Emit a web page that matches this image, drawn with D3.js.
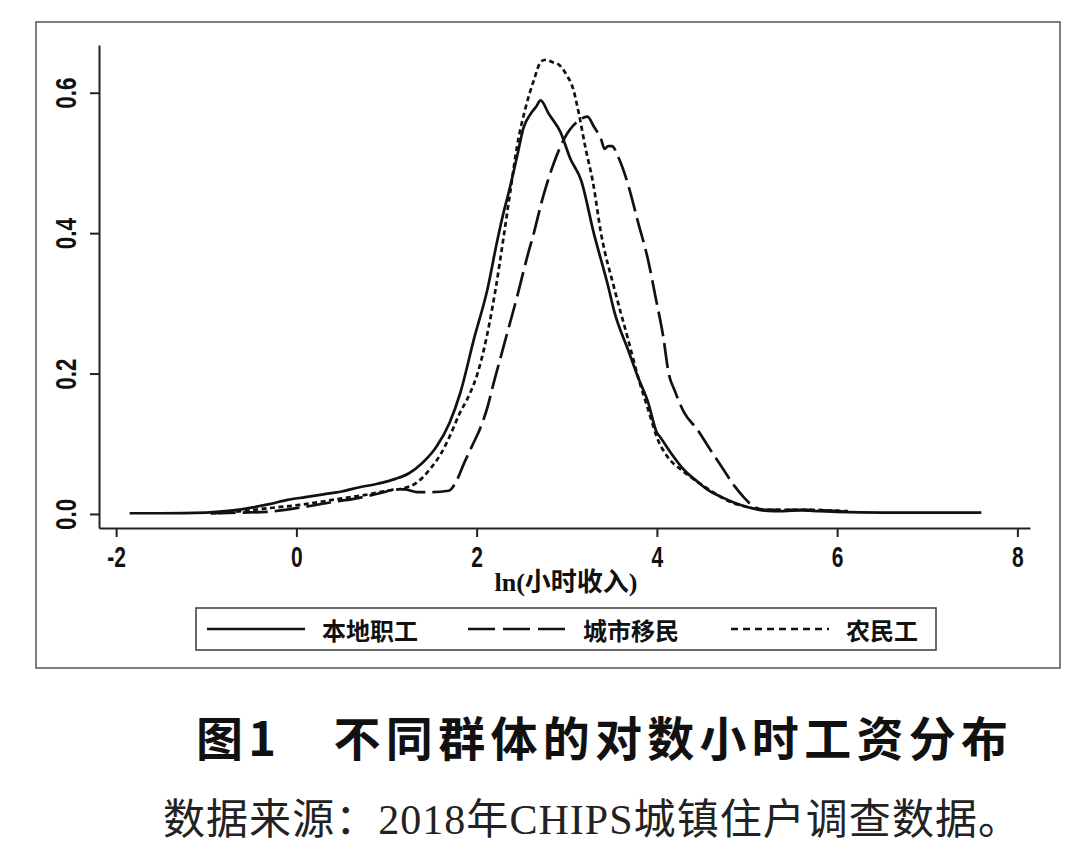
<!DOCTYPE html>
<html><head><meta charset="utf-8">
<script src="https://cdn.jsdelivr.net/npm/d3@7"></script>
<style>body{margin:0;background:#fff}svg{display:block}</style>
</head><body><svg id="c" width="1080" height="857"></svg>
<script>
// ---- data ----
const seriesNames = ["本地职工", "城市移民", "农民工"];
const localX = [-1.85,-1.5,-1.0,-0.7,-0.5,-0.3,-0.1,0.1,0.3,0.5,0.7,0.9,1.1,1.25,1.4,1.55,1.7,1.82,1.97,2.12,2.23,2.3,2.36,2.45,2.52,2.6,2.66,2.71,2.8,2.93,3.04,3.16,3.3,3.46,3.53,3.68,3.79,3.9,4.0,4.04,4.15,4.3,4.45,4.57,4.72,4.86,5.0,5.12,5.3,5.6,5.8,6.0,6.5,7.0,7.6];
const localY = [0.001,0.001,0.002,0.005,0.009,0.014,0.020,0.024,0.028,0.032,0.038,0.043,0.050,0.058,0.073,0.095,0.130,0.173,0.249,0.320,0.390,0.430,0.460,0.510,0.550,0.570,0.580,0.589,0.570,0.544,0.506,0.475,0.400,0.324,0.287,0.234,0.195,0.160,0.116,0.109,0.088,0.063,0.046,0.034,0.024,0.016,0.010,0.006,0.004,0.005,0.004,0.003,0.002,0.002,0.002];
const urbanX = [-0.95,-0.6,-0.33,0.04,0.4,0.7,0.97,1.1,1.2,1.34,1.5,1.69,1.78,1.86,1.95,2.04,2.12,2.19,2.3,2.45,2.58,2.62,2.74,2.86,2.97,3.13,3.23,3.3,3.38,3.42,3.46,3.5,3.58,3.69,3.79,3.9,3.99,4.07,4.13,4.2,4.3,4.45,4.57,4.74,4.86,4.97,5.08,5.2,5.5,5.7,6.0,6.12];
const urbanY = [0.001,0.002,0.003,0.009,0.017,0.023,0.031,0.035,0.035,0.031,0.031,0.033,0.048,0.072,0.097,0.122,0.152,0.187,0.239,0.310,0.375,0.393,0.453,0.501,0.534,0.560,0.566,0.552,0.534,0.520,0.524,0.524,0.506,0.465,0.416,0.363,0.306,0.253,0.201,0.175,0.145,0.120,0.096,0.063,0.040,0.023,0.010,0.006,0.006,0.006,0.004,0.003];
const ruralX = [-0.95,-0.6,-0.33,0.04,0.4,0.8,1.0,1.2,1.34,1.49,1.6,1.71,1.8,1.93,2.01,2.08,2.21,2.3,2.38,2.45,2.54,2.63,2.72,2.77,2.85,2.9,3.0,3.07,3.13,3.21,3.29,3.38,3.53,3.68,3.8,3.9,4.01,4.12,4.27,4.45,4.6,4.8,5.0,5.2,5.5,5.7,5.9,6.12];
const ruralY = [0.001,0.004,0.008,0.013,0.020,0.028,0.033,0.037,0.045,0.065,0.085,0.113,0.140,0.173,0.200,0.234,0.320,0.395,0.465,0.525,0.577,0.616,0.645,0.647,0.643,0.641,0.625,0.606,0.573,0.520,0.473,0.400,0.320,0.249,0.191,0.150,0.106,0.081,0.063,0.046,0.033,0.018,0.010,0.006,0.006,0.006,0.005,0.004];
const xTicks = [-2,0,2,4,6,8];
const yTicks = [0,0.2,0.4,0.6];
const xTitle = "ln(小时收入)";
const chartTitle = "图1　不同群体的对数小时工资分布";
const sourceNote = "数据来源：2018年CHIPS城镇住户调查数据。";

// ---- drawing ----
const svg = d3.select("#c");
const x = d3.scaleLinear().domain([-2.19, 8.14]).range([99, 1030]);
const y = d3.scaleLinear().domain([-0.02, 0.668]).range([528, 45]);

// outer frame
svg.append("rect").attr("x",36).attr("y",22).attr("width",1024).attr("height",646)
  .attr("fill","none").attr("stroke","#555").attr("stroke-width",1.5);

const tickFont = "'Liberation Sans','DejaVu Sans',Arial,sans-serif";

// x axis
const gx = svg.append("g").attr("transform","translate(0,528)")
  .call(d3.axisBottom(x).tickValues(xTicks).tickSize(9).tickSizeOuter(0).tickFormat(d=>d<0?"-"+Math.abs(d):d));
// y axis
const gy = svg.append("g").attr("transform","translate(99,0)")
  .call(d3.axisLeft(y).tickValues(yTicks).tickSize(9).tickSizeOuter(0).tickFormat(d3.format(".1f")));
[gx,gy].forEach(g=>{
  g.select(".domain").attr("stroke","#222").attr("stroke-width",2);
  g.selectAll(".tick line").attr("stroke","#222").attr("stroke-width",2);
  g.selectAll(".tick text").attr("fill","#111").attr("font-family",tickFont)
    .attr("font-weight","bold").attr("font-size",30);
});
gx.selectAll(".tick text").attr("dy",0).attr("y",0)
  .attr("transform","translate(0,39) scale(0.7,1)");
gy.selectAll(".tick text")
  .attr("text-anchor","middle").attr("x",0).attr("dy",0)
  .attr("transform","translate(-33,0) rotate(-90) scale(0.75,1)")
  .attr("dominant-baseline","central");

// axis title
svg.append("text").attr("x",566).attr("y",591).attr("text-anchor","middle")
  .attr("font-family","'Liberation Serif','Noto Sans CJK SC',serif").attr("font-weight","bold")
  .attr("font-size",26).attr("fill","#111").text(xTitle);

// curves
const series = [
  {xs:localX, ys:localY, dash:null, leg:null},
  {xs:urbanX, ys:urbanY, dash:"25,7", leg:"27,8"},
  {xs:ruralX, ys:ruralY, dash:"5,3.5", leg:"7,5"}
];
const line = d3.line().x(d=>x(d[0])).y(d=>y(d[1])).curve(d3.curveMonotoneX);
series.forEach(s=>{
  const pts = s.xs.map((v,i)=>[v, s.ys[i]]);
  svg.append("path").datum(pts).attr("d",line).attr("fill","none")
    .attr("stroke","#111").attr("stroke-width",2.7)
    .attr("stroke-dasharray", s.dash);
});

// legend
svg.append("rect").attr("x",196).attr("y",608).attr("width",740).attr("height",42)
  .attr("fill","none").attr("stroke","#444").attr("stroke-width",1.6);
const legX = [[207,305,322],[468,566,583],[731,829,846]];
series.forEach((s,i)=>{
  svg.append("line").attr("x1",legX[i][0]).attr("x2",legX[i][1]).attr("y1",629).attr("y2",629)
    .attr("stroke","#111").attr("stroke-width",2.7).attr("stroke-dasharray",s.leg);
  svg.append("text").attr("x",legX[i][2]).attr("y",629).attr("dominant-baseline","central")
    .attr("font-family","'Noto Sans CJK SC',sans-serif").attr("font-weight","bold")
    .attr("font-size",24).attr("fill","#111").text(seriesNames[i]);
});

// title & source
svg.append("text").attr("x",196).attr("y",756).attr("textLength",812).attr("lengthAdjust","spacing")
  .attr("font-family","'Noto Sans CJK SC',sans-serif").attr("font-weight","bold")
  .attr("font-size",47).attr("fill","#111").text(chartTitle);
svg.append("text").attr("x",163).attr("y",834).attr("textLength",857).attr("lengthAdjust","spacing")
  .attr("font-family","'Liberation Serif','Noto Sans CJK SC',serif")
  .attr("font-size",42).attr("fill","#222").text(sourceNote);
</script></body></html>
